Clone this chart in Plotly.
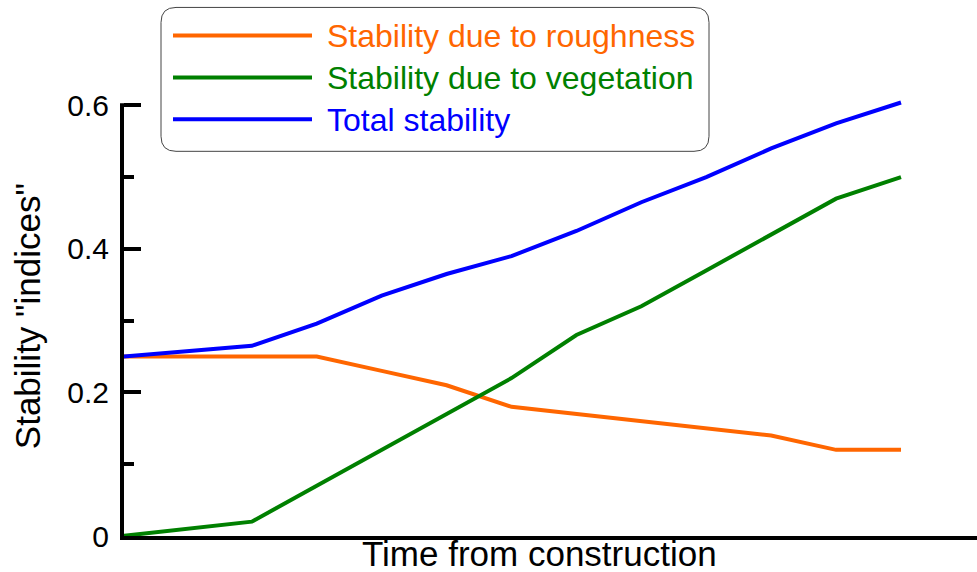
import plotly.graph_objects as go

# ---- data ----
time_steps = list(range(13))
roughness = [0.25, 0.25, 0.25, 0.25, 0.23, 0.21, 0.18, 0.17, 0.16, 0.15, 0.14, 0.12, 0.12]
vegetation = [0.0, 0.01, 0.02, 0.07, 0.12, 0.17, 0.22, 0.28, 0.32, 0.37, 0.42, 0.47, 0.50]
total = [0.25, 0.257, 0.265, 0.296, 0.335, 0.365, 0.39, 0.425, 0.465, 0.50, 0.54, 0.575, 0.604]
series_names = ["Stability due to roughness", "Stability due to vegetation", "Total stability"]
series_colors = ["#FF6600", "#008000", "#0000FF"]
y_tickvals = [0, 0.2, 0.4, 0.6]
y_ticktext = ["0", "0.2", "0.4", "0.6"]
y_minor = [0.1, 0.3, 0.5]

W, H = 977, 572
Y_TOP = 0.62          # a little headroom so the top of the blue line is not clipped
PX_ZERO, PX_SIX = 536, 105   # pixel rows of y=0 and y=0.6
L, R, B = 124, 0, H - PX_ZERO
PH = (PX_ZERO - PX_SIX) * Y_TOP / 0.6
T = PX_ZERO - PH
PW = W - L - R
FONT = "Liberation Sans, Arial, Helvetica, sans-serif"


def px_x(px):
    return (px - L) / PW


def px_y(py):
    return (PX_ZERO - py) / PH


fig = go.Figure()
for vals, name, col in zip([roughness, vegetation, total], series_names, series_colors):
    fig.add_trace(go.Scatter(x=time_steps, y=vals, mode="lines", name=name,
                             line=dict(color=col, width=4), showlegend=False,
                             cliponaxis=False))

unit = 779 / 12.0
x0 = (L - 122) / unit
x1 = x0 + PW / unit

# y axis line (drawn as a shape so it stops at 0.6)
shapes = [dict(type="line", xref="paper", yref="paper",
               x0=-2 / PW, x1=-2 / PW, y0=px_y(540), y1=px_y(103),
               line=dict(color="black", width=4), layer="above")]

# legend box (rounded rectangle)
bx0, bx1, by0, by1 = px_x(161), px_x(709), px_y(151), px_y(7)
rx, ry = 15 / PW, 15 / PH
path = (f"M {bx0+rx},{by1} L {bx1-rx},{by1} Q {bx1},{by1} {bx1},{by1-ry} "
        f"L {bx1},{by0+ry} Q {bx1},{by0} {bx1-rx},{by0} L {bx0+rx},{by0} "
        f"Q {bx0},{by0} {bx0},{by0+ry} L {bx0},{by1-ry} Q {bx0},{by1} {bx0+rx},{by1} Z")
shapes.append(dict(type="path", xref="paper", yref="paper", path=path,
                   line=dict(color="#444444", width=1), fillcolor="white", layer="above"))
annotations = []
row_y = [35, 77, 119]
for name, col, yy in zip(series_names, series_colors, row_y):
    shapes.append(dict(type="line", xref="paper", yref="paper",
                       x0=px_x(173), x1=px_x(312), y0=px_y(yy), y1=px_y(yy),
                       line=dict(color=col, width=4), layer="above"))
    annotations.append(dict(xref="paper", yref="paper", x=px_x(325), y=px_y(yy + 1),
                            xanchor="left", yanchor="middle", showarrow=False,
                            text=name, font=dict(family=FONT, size=32, color=col)))

annotations.append(dict(xref="paper", yref="paper", x=px_x(539), y=px_y(554),
                        xanchor="center", yanchor="middle", showarrow=False,
                        text="Time from construction",
                        font=dict(family=FONT, size=35, color="black")))
annotations.append(dict(xref="paper", yref="paper", x=px_x(27), y=px_y(316),
                        xanchor="center", yanchor="middle", showarrow=False,
                        textangle=-90, text='Stability "indices"',
                        font=dict(family=FONT, size=35, color="black")))

fig.update_layout(
    width=W, height=H,
    margin=dict(l=L, r=R, t=T, b=B, pad=0),
    paper_bgcolor="white", plot_bgcolor="white",
    showlegend=False,
    shapes=shapes, annotations=annotations,
    xaxis=dict(range=[x0, x1], showline=True, linecolor="black", linewidth=4,
               showticklabels=False, ticks="", showgrid=False, zeroline=False),
    yaxis=dict(range=[0, Y_TOP], showline=False,
               tickvals=y_tickvals, ticktext=y_ticktext, ticks="inside",
               ticklen=17, tickwidth=4, tickcolor="black",
               ticklabelstandoff=14,
               tickfont=dict(family=FONT, size=30, color="black"),
               showgrid=False, zeroline=False,
               minor=dict(tickvals=y_minor, ticks="inside", ticklen=10,
                          tickwidth=4, tickcolor="black", showgrid=False)),
)

fig.write_html("out.html", config={"displayModeBar": False},
               post_script="document.body.style.margin='0';document.body.style.overflow='hidden';")
